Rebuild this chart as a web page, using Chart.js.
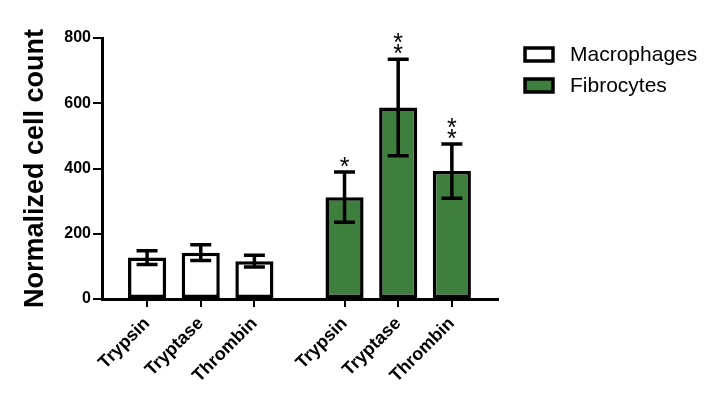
<!DOCTYPE html>
<html>
<head>
<meta charset="utf-8">
<script src="https://cdn.jsdelivr.net/npm/chart.js@4/dist/chart.umd.min.js"></script>
<style>
	html, body { margin: 0; padding: 0; background: #fff; }
</style>
</head>
<body>
<canvas id="chart" width="718" height="406"></canvas>
<script>
// Treatments, repeated under each cell type
const treatments = ['Trypsin', 'Tryptase', 'Thrombin'];
const seriesNames = ['Macrophages', 'Fibrocytes'];

// Normalized cell count, mean and error bar
const macrophageMeans = [127, 142, 116];
const macrophageErrors = [21, 24, 18];
const fibrocyteMeans = [312, 587, 392];
const fibrocyteErrors = [77, 148, 83];

// Significance marks over each bar
const macrophageStars = ['', '', ''];
const fibrocyteStars = ['*', '**', '**'];

const yTicks = [0, 200, 400, 600, 800];

// Layout: gap between the two groups, in bar slots
const groupGap = 1.68;
const groupStart = treatments.length - 1 + groupGap;
const fontFamily = '"Liberation Sans", Arial, sans-serif';

const macroX = treatments.map((t, i) => i);
const fibroX = treatments.map((t, i) => groupStart + i);
const tickX = macroX.concat(fibroX);
const tickLabels = treatments.concat(treatments);

function points(xs, ys) {
	return xs.map((x, i) => ({ x: x, y: ys[i] }));
}

// Draws the error bars and the asterisks
const errorBars = {
	id: 'errorBars',
	afterDatasetsDraw(chart) {
		const ctx = chart.ctx;
		const y = chart.scales.y;
		ctx.save();
		ctx.strokeStyle = '#000';
		ctx.fillStyle = '#000';
		ctx.lineWidth = 3.5;
		chart.data.datasets.forEach((ds, d) => {
			const meta = chart.getDatasetMeta(d);
			meta.data.forEach((bar, i) => {
				const mean = ds.data[i].y;
				const err = ds.errors[i];
				const hi = y.getPixelForValue(mean + err);
				const lo = y.getPixelForValue(mean - err);
				const half = 10.5;
				ctx.beginPath();
				ctx.moveTo(bar.x, hi);
				ctx.lineTo(bar.x, lo);
				ctx.moveTo(bar.x - half, hi);
				ctx.lineTo(bar.x + half, hi);
				ctx.moveTo(bar.x - half, lo);
				ctx.lineTo(bar.x + half, lo);
				ctx.stroke();

				// stars stacked upwards above the cap
				ctx.font = '25px ' + fontFamily;
				ctx.textAlign = 'center';
				ctx.textBaseline = 'alphabetic';
				const stars = ds.stars[i];
				for (let k = 0; k < stars.length; k++) {
					ctx.fillText('*', bar.x, hi + 3 - k * 11);
				}
			});
		});
		ctx.restore();
	}
};

// Legend drawn by hand to match the boxes of the original
const boxLegend = {
	id: 'boxLegend',
	afterDraw(chart) {
		const ctx = chart.ctx;
		ctx.save();
		chart.data.datasets.forEach((ds, k) => {
			const top = 47 + k * 31;
			ctx.fillStyle = ds.backgroundColor;
			ctx.fillRect(525, top + 1, 28, 13);
			ctx.strokeStyle = '#000';
			ctx.lineWidth = 3.5;
			ctx.strokeRect(525, top + 1, 28, 13);
			ctx.fillStyle = '#000';
			ctx.font = '21px ' + fontFamily;
			ctx.textAlign = 'left';
			ctx.textBaseline = 'middle';
			ctx.fillText(ds.label, 570, top + 8);
		});
		ctx.restore();
	}
};

const barStyle = {
	borderColor: '#000',
	borderWidth: 3.5,
	borderSkipped: false,
	barPercentage: 0.71,
	categoryPercentage: 1.0
};

new Chart(document.getElementById('chart'), {
	type: 'bar',
	data: {
		datasets: [
			{
				label: seriesNames[0],
				data: points(macroX, macrophageMeans),
				errors: macrophageErrors,
				stars: macrophageStars,
				backgroundColor: '#ffffff',
				...barStyle
			},
			{
				label: seriesNames[1],
				data: points(fibroX, fibrocyteMeans),
				errors: fibrocyteErrors,
				stars: fibrocyteStars,
				backgroundColor: '#3e7f3e',
				...barStyle
			}
		]
	},
	options: {
		responsive: false,
		animation: false,
		devicePixelRatio: 1,
		layout: { padding: { top: 38, right: 220, bottom: 0, left: 0 } },
		plugins: {
			legend: { display: false },
			tooltip: { enabled: false }
		},
		scales: {
			x: {
				type: 'linear',
				stacked: true,
				offset: false,
				min: -0.84,
				max: groupStart + treatments.length - 1 + 0.86,
				afterBuildTicks: (s) => { s.ticks = tickX.map(v => ({ value: v })); },
				afterFit: (s) => { s.height = 107; },
				ticks: {
					autoSkip: false,
					minRotation: 45,
					maxRotation: 45,
					padding: 6,
					color: '#000',
					font: { family: fontFamily, size: 18, weight: 'bold' },
					callback: (v, i) => tickLabels[i]
				},
				grid: { display: true, offset: false, drawOnChartArea: false, tickLength: 8, color: '#000', lineWidth: 2 },
				border: { display: true, color: '#000', width: 3 }
			},
			y: {
				min: 0,
				max: 800,
				afterBuildTicks: (s) => { s.ticks = yTicks.map(v => ({ value: v })); },
				afterFit: (s) => { s.width = 102; },
				ticks: {
					padding: 2,
					color: '#000',
					font: { family: fontFamily, size: 16, weight: 'bold' }
				},
				grid: { display: true, drawOnChartArea: false, tickLength: 9, color: '#000', lineWidth: 2 },
				border: { display: true, color: '#000', width: 3 },
				title: {
					display: true,
					text: 'Normalized cell count',
					color: '#000',
					font: { family: fontFamily, size: 27, weight: 'bold' },
					padding: { top: 19, bottom: 0 }
				}
			}
		}
	},
	plugins: [errorBars, boxLegend]
});
</script>
</body>
</html>
